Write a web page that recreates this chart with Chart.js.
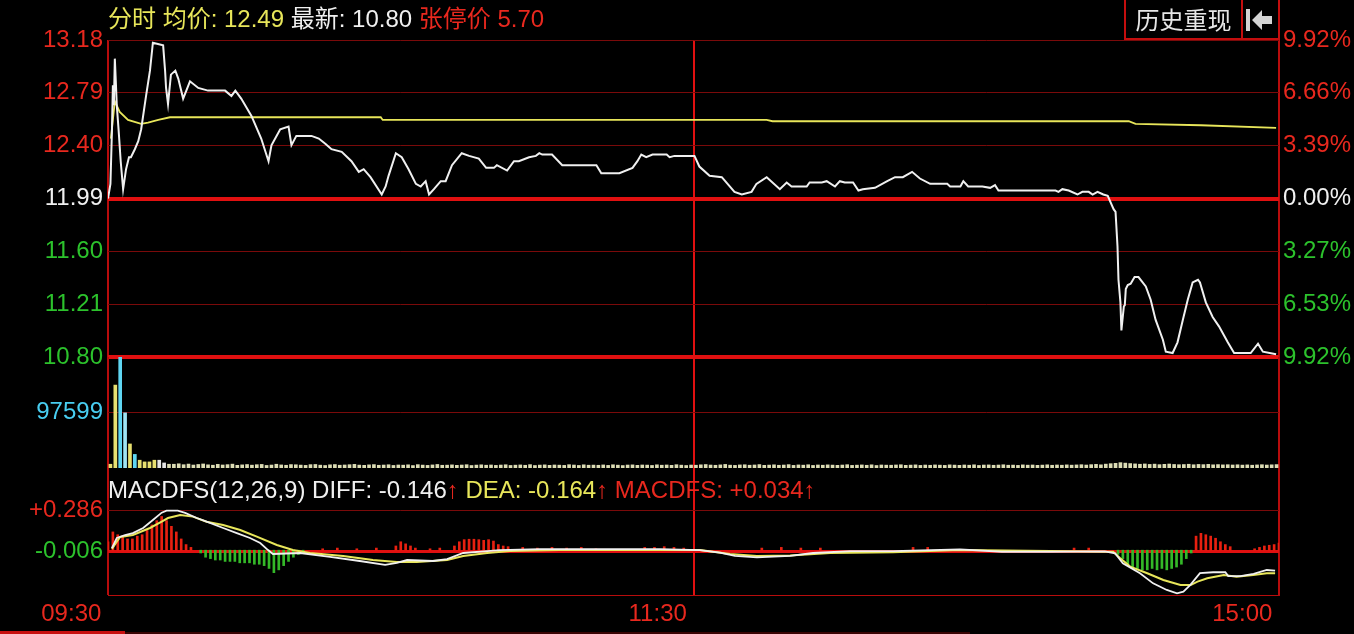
<!DOCTYPE html>
<html>
<head>
<meta charset="utf-8">
<script src="https://cdn.jsdelivr.net/npm/chart.js@4.4.0/dist/chart.umd.min.js"></script>
<style>
  html, body { margin: 0; padding: 0; background: #000; overflow: hidden; }
  #wrap { position: relative; width: 1354px; height: 634px; background: #000;
          font-family: 'Liberation Sans', 'Noto Sans CJK SC', sans-serif; }
  .pane { position: absolute; left: 0; width: 1354px; }
  .txt { position: absolute; font-size: 24px; line-height: 28px; white-space: pre; }
  .yl { color: #e8e65a; } .wt { color: #f0f0f0; } .rd { color: #e8281e; }
  #btn { position: absolute; left: 1124px; top: -2px; width: 119px; height: 42px; box-sizing: border-box;
         border: 2px solid #c40e0e; color: #e6e6e6; font-size: 24px; line-height: 38px; text-align: center;
         font-family: 'Noto Sans CJK SC', sans-serif; }
  #back { position: absolute; left: 1241px; top: -2px; width: 39px; height: 42px; box-sizing: border-box;
          border: 2px solid #c40e0e; border-left: none; }
  #strip { position: absolute; left: 0; top: 631px; width: 125px; height: 3px; background: #c81010; }
  #strip2 { position: absolute; left: 125px; top: 632px; width: 845px; height: 2px; background: #3a0404; }
</style>
</head>
<body>
<div id="wrap">
  <div class="pane" style="top:0px"><canvas id="cPrice" width="1354" height="379"></canvas></div>
  <div class="pane" style="top:335px"><canvas id="cVol" width="1354" height="155"></canvas></div>
  <div class="pane" style="top:446px"><canvas id="cMacd" width="1354" height="188"></canvas></div>

  <div class="txt" style="left:108px;top:5px"><span class="yl">分时 均价: 12.49</span> <span class="wt">最新: 10.80</span> <span class="rd">张停价 5.70</span></div>
  <div class="txt" style="left:108px;top:476px"><span class="wt">MACDFS(12,26,9) DIFF: -0.146</span><span class="rd">↑</span> <span class="yl">DEA: -0.164</span><span class="rd">↑</span> <span class="rd">MACDFS: +0.034↑</span></div>
  <div id="btn">历史重现</div>
  <div id="back">
    <svg width="37" height="40" viewBox="0 0 37 40">
      <rect x="5" y="9" width="4" height="22" fill="#d4d4d4"/>
      <polygon points="11,20 21,10 21,16 31,16 31,24 21,24 21,30" fill="#d4d4d4"/>
    </svg>
  </div>
  <div id="strip"></div><div id="strip2"></div>
</div>

<script>
// ---- 价格轴 / 百分比轴 (从上到下) ----
const priceMax = 13.18;
const priceMin = 10.80;
const priceLabels = ['13.18', '12.79', '12.40', '11.99', '11.60', '11.21', '10.80'];
const pctLabels = ['9.92%', '6.66%', '3.39%', '0.00%', '3.27%', '6.53%', '9.92%'];

// ---- 时间轴 (分钟序号) ----
const timeTicks = [0, 120, 240];
const timeLabels = ['09:30', '11:30', '15:00'];

// ---- 分时价格 (白线) ----
const priceT = [
  0, 0.5, 0.8, 1.0, 1.2, 1.4, 1.6, 1.8, 2.2, 2.6,
  3.1, 3.7, 4.3, 4.7, 5.5, 6.2, 6.8, 7.8, 8.6, 9.2,
  11.3, 11.7, 11.9, 12.3, 12.9, 13.8, 14.4, 15.4, 16.8, 18.5,
  20.5, 22.0, 24.0, 25.3, 26.1, 27.3, 29.4, 31.4, 32.9, 33.5,
  35.3, 37.0, 37.6, 38.6, 41.7, 43.2, 44.6, 45.8, 47.9, 49.9,
  51.4, 52.4, 53.8, 56.1, 56.9, 57.5, 59.0, 60.2, 61.6, 63.1,
  64.1, 65.1, 65.8, 66.8, 68.2, 69.2, 70.5, 72.5, 74.0, 76.0,
  77.5, 79.1, 79.7, 81.8, 83.2, 84.2, 86.3, 87.7, 88.4, 89.0,
  91.0, 93.1, 100.1, 101.1, 104.8, 107.5, 108.5, 109.3, 110.3, 111.6,
  114.5, 115.1, 116.1, 120.2, 121.2, 123.3, 125.8, 128.4, 129.9, 131.9,
  132.9, 135.0, 137.7, 139.1, 140.1, 141.2, 143.2, 143.8, 146.3, 147.3,
  149.0, 150.0, 151.0, 152.7, 153.8, 154.7, 157.2, 159.7, 161.3, 162.9,
  164.8, 166.4, 168.5, 172.0, 172.6, 174.7, 175.3, 176.3, 179.2, 180.8,
  181.8, 182.5, 187.6, 194.2, 194.8, 195.6, 196.9, 198.7, 199.7, 201.0,
  201.8, 202.8, 204.0, 204.9, 206.1, 206.5, 206.9, 207.1, 207.5, 207.7,
  208.2, 208.4, 208.6, 209.0, 209.6, 210.4, 211.2, 212.7, 213.7, 214.7,
  216.2, 216.8, 218.2, 219.2, 220.3, 221.3, 222.3, 223.4, 223.8, 225.0,
  226.4, 227.7, 229.5, 230.8, 234.2, 235.7, 236.7, 239.4
];
const priceV = [
  11.99, 12.10, 12.49, 12.84, 12.69, 13.04, 12.87, 12.69, 12.49, 12.27,
  12.06, 12.21, 12.30, 12.30, 12.36, 12.42, 12.51, 12.76, 12.95, 13.16,
  13.14, 12.95, 12.82, 12.70, 12.92, 12.95, 12.89, 12.74, 12.87, 12.82,
  12.80, 12.80, 12.80, 12.76, 12.80, 12.74, 12.61, 12.44, 12.27, 12.39,
  12.51, 12.53, 12.39, 12.46, 12.46, 12.44, 12.40, 12.36, 12.34, 12.27,
  12.19, 12.21, 12.15, 12.02, 12.08, 12.16, 12.33, 12.30, 12.21, 12.10,
  12.08, 12.12, 12.02, 12.06, 12.12, 12.12, 12.24, 12.33, 12.31, 12.29,
  12.22, 12.22, 12.24, 12.20, 12.27, 12.27, 12.30, 12.31, 12.33, 12.32,
  12.32, 12.24, 12.24, 12.18, 12.18, 12.22, 12.27, 12.32, 12.30, 12.32,
  12.32, 12.30, 12.31, 12.31, 12.23, 12.16, 12.15, 12.04, 12.02, 12.04,
  12.10, 12.15, 12.06, 12.11, 12.08, 12.08, 12.08, 12.11, 12.11, 12.12,
  12.08, 12.12, 12.11, 12.11, 12.05, 12.06, 12.07, 12.12, 12.15, 12.15,
  12.19, 12.14, 12.10, 12.10, 12.08, 12.08, 12.12, 12.08, 12.08, 12.07,
  12.09, 12.05, 12.05, 12.05, 12.04, 12.06, 12.05, 12.02, 12.04, 12.04,
  12.02, 12.04, 12.02, 12.01, 11.91, 11.89, 11.63, 11.38, 11.21, 11.00,
  11.18, 11.19, 11.31, 11.34, 11.35, 11.40, 11.40, 11.33, 11.23, 11.08,
  10.93, 10.84, 10.83, 10.91, 11.08, 11.23, 11.36, 11.38, 11.36, 11.21,
  11.10, 11.03, 10.91, 10.83, 10.83, 10.90, 10.84, 10.82
];

// ---- 均价 (黄线) ----
const avgT = [0.6, 1.4, 2.4, 4.1, 6.8, 8.2, 10.3, 12.7, 55.9, 56.3, 135.0, 136.2, 209.2, 210.6, 224.0, 239.4];
const avgV = [12.44, 12.72, 12.64, 12.58, 12.55, 12.56, 12.58, 12.60, 12.60, 12.58, 12.58, 12.57, 12.57, 12.55, 12.54, 12.52];

// ---- 成交量 (每分钟) ----
const volTick = 97599;
const volMax = 195198;
const volume = [
  6600, 145800, 195000, 97000, 42300, 23900, 13700, 10700, 10700, 13700,
  13700, 8900, 6600, 6600, 7400, 5800, 6900, 5200, 6200, 7100,
  5600, 4900, 6400, 5300, 5900, 6800, 4700, 5500, 6100, 5000,
  5800, 6300, 4500, 5200, 6600, 5400, 4800, 6000, 5700, 5100,
  4600, 5900, 6200, 5000, 4400, 5600, 6100, 4900, 5300, 5800,
  6400, 5100, 4700, 5500, 6000, 4800, 5200, 5700, 4500, 5300,
  5000, 5600, 4300, 5900, 5100, 4600, 5400, 6200, 4800, 5000,
  5500, 4700, 5200, 5800, 4400, 5100, 5600, 4900, 5300, 4600,
  5200, 5700, 4500, 5000, 5400, 4800, 5900, 4400, 5100, 5500,
  4700, 5300, 5000, 4600, 5800, 5200, 4500, 5600, 4900, 5100,
  4800, 5400, 4600, 5700, 5000, 4300, 5200, 5500, 4700, 5300,
  5100, 4500, 5600, 4900, 5300, 4700, 5800, 5000, 4400, 5200,
  4900, 5600, 6100, 5200, 4800, 5500, 6300, 5000, 4600, 5400,
  5700, 4900, 5300, 6000, 4700, 5100, 5600, 4800, 5200, 5900,
  4600, 5400, 5000, 5700, 4500, 5300, 4900, 5500, 5100, 4700,
  5200, 5800, 4600, 5000, 5400, 4800, 5600, 4400, 5300, 5000,
  4900, 5300, 5700, 4700, 5100, 5500, 4600, 5200, 4800, 5400,
  5000, 4600, 5500, 5100, 4700, 5300, 4900, 5600, 4500, 5200,
  5400, 4800, 5200, 5700, 4900, 5100, 4600, 5500, 5000, 5300,
  4700, 5100, 5600, 4800, 5300, 4900, 5500, 5000, 5400, 5800,
  5200, 5900, 6400, 5600, 6800, 7600, 8200, 9400, 8600, 7800,
  7200, 6600, 7100, 6300, 6800, 5900, 6500, 7000, 6200, 5800,
  6100, 6600, 5700, 6300, 5900, 6400, 5600, 6000, 5500, 5800,
  5300, 5700, 5100, 5500, 4900, 5400, 5800, 5200, 5600, 6000
];

// ---- MACD 柱 ----
const macdT = [
  0, 1, 2, 3, 4, 5, 6, 7, 8, 9, 10, 11, 12, 13, 14, 15, 16, 17,
  19, 20, 21, 22, 23, 24, 25, 26, 27, 28, 29, 30, 31, 32, 33, 34, 35, 36, 37, 38, 39, 40,
  44, 47, 51, 55, 59, 60, 61, 62, 63, 66, 68,
  71, 72, 73, 74, 75, 76, 77, 78, 79, 80, 81, 82,
  85, 88, 91, 94, 97, 100, 110, 112, 114, 116, 118,
  134, 138, 142, 146, 165, 168, 198, 201,
  207, 208, 209, 210, 211, 212, 213, 214, 215, 216, 217, 218, 219, 220, 221, 222,
  223, 224, 225, 226, 227, 228, 229, 230,
  235, 236, 237, 238, 239, 240
];
const macdV = [
  0.06, 0.13, 0.11, 0.10, 0.08, 0.08, 0.10, 0.11, 0.14, 0.18, 0.21, 0.24, 0.21, 0.17, 0.13, 0.08, 0.04, 0.02,
  -0.02, -0.05, -0.06, -0.07, -0.07, -0.08, -0.08, -0.08, -0.09, -0.09, -0.09, -0.10, -0.10, -0.11, -0.13, -0.16, -0.14, -0.11, -0.08, -0.05, -0.03, -0.02,
  0.01, 0.015, 0.01, 0.015, 0.03, 0.06, 0.045, 0.03, 0.015, 0.01, 0.015,
  0.03, 0.06, 0.075, 0.078, 0.078, 0.075, 0.07, 0.075, 0.065, 0.04, 0.03, 0.025,
  0.02, 0.015, 0.02, 0.015, 0.02, 0.01, 0.02, 0.02, 0.025, 0.02, 0.015,
  0.015, 0.02, 0.015, 0.015, 0.02, 0.02, 0.015, 0.015,
  -0.03, -0.06, -0.10, -0.12, -0.13, -0.14, -0.14, -0.13, -0.14, -0.13, -0.14, -0.13, -0.12, -0.10, -0.06, -0.02,
  0.10, 0.12, 0.11, 0.10, 0.085, 0.06, 0.04, 0.025,
  0.01, 0.02, 0.03, 0.035, 0.04, 0.05
];

// ---- DIFF (白) / DEA (黄) ----
const diffT = [
  0.8, 1.8, 3.5, 5.1, 7.2, 9.2, 11.0, 12.0, 14.3, 15.8, 18.2, 20.9, 23.6, 26.4, 29.1, 31.2, 32.8, 33.8,
  39.4, 45.5, 51.6, 56.8, 59.2, 61.3, 66.6, 69.5, 72.8, 77.7, 80.3, 88.5, 100.8, 113.1, 121.3, 125.4,
  128.5, 133.0, 139.8, 144.5, 152.1, 160.9, 174.6, 183.2, 193.1, 204.3, 206.4, 208.0, 211.5, 214.2,
  217.0, 219.1, 220.4, 221.8, 223.8, 226.5, 229.0, 229.6, 232.1, 234.8, 237.5, 239.2
];
const diffV = [
  0.014, 0.087, 0.108, 0.122, 0.158, 0.215, 0.267, 0.281, 0.281, 0.265, 0.229, 0.194, 0.158, 0.122, 0.087, 0.051, 0.001, -0.027,
  -0.020, -0.048, -0.077, -0.105, -0.091, -0.070, -0.077, -0.063, -0.020, -0.006, 0.001, 0.008, 0.008, 0.008, 0.001, -0.018,
  -0.041, -0.051, -0.041, -0.020, -0.006, -0.006, 0.006, -0.011, -0.011, -0.009, -0.022, -0.093, -0.164, -0.236,
  -0.283, -0.307, -0.295, -0.248, -0.164, -0.157, -0.157, -0.184, -0.184, -0.169, -0.141, -0.146
];
const deaT = [
  0.8, 1.8, 2.5, 5.1, 8.6, 11.0, 12.3, 14.8, 17.4, 20.2, 23.6, 27.1, 30.5, 34.6, 37.9, 41.4, 48.2,
  54.3, 59.2, 63.3, 69.5, 72.8, 77.7, 82.4, 92.6, 109.0, 121.3, 127.5, 133.0, 139.8, 148.0, 160.9,
  174.6, 193.1, 204.3, 206.0, 207.4, 209.5, 213.0, 216.3, 219.8, 221.9, 223.3, 225.3, 228.7, 231.3,
  234.7, 237.5, 239.2
];
const deaV = [
  0.009, 0.061, 0.094, 0.108, 0.158, 0.203, 0.229, 0.251, 0.239, 0.203, 0.179, 0.144, 0.096, 0.037, 0.001, -0.020, -0.041,
  -0.070, -0.084, -0.084, -0.070, -0.041, -0.020, -0.006, 0.001, 0.001, 0.001, -0.027, -0.041, -0.038, -0.020, -0.015,
  0.001, -0.006, -0.011, -0.011, -0.056, -0.117, -0.164, -0.212, -0.248, -0.248, -0.224, -0.200, -0.177, -0.189,
  -0.177, -0.164, -0.164
];

// MACD 轴范围与刻度
const macdMin = -0.319;
const macdMax = 0.585;
const macdTicks = [-0.006, 0.286];
const macdTickLabels = ['-0.006', '+0.286'];

// ---- 样式 ----
const FONT = "'Liberation Sans', 'Noto Sans CJK SC', sans-serif";
const COL = {
  red: '#e8281e', green: '#2cc22c', white: '#f0f0f0', yellow: '#e8e65a', cyan: '#48cdf0',
  gridThin: '#7a0a0a', gridThick: '#e01010', frame: '#b80c0c'
};
const priceTickColors = [COL.red, COL.red, COL.red, COL.white, COL.green, COL.green, COL.green];
const pctTickColors = [COL.red, COL.red, COL.red, COL.white, COL.green, COL.green, COL.green];
const volHeadColors = ['#e8e070', '#e8e070', '#5fd6f2', '#9fe4f4', '#e8e070', '#5fd6f2',
                       '#e8e070', '#e8e070', '#e8e070', '#e8e070', '#e6e6e6', '#e6e6e6'];

Chart.defaults.font.family = FONT;
Chart.defaults.animation = false;

const pairs = (xs, ys) => xs.map((x, i) => ({ x: x, y: ys[i] }));

// x 轴: 竖线 09:30 / 11:30 / 15:00
function timeAxis(showLabels) {
  return {
    type: 'linear', min: 0, max: 240, offset: false,
    afterBuildTicks: s => { s.ticks = timeTicks.map(v => ({ value: v })); },
    afterFit: s => { s.height = showLabels ? 39 : 0; },
    grid: {
      offset: false, drawTicks: false,
      color: c => c.index === 1 ? COL.gridThick : COL.frame,
      lineWidth: 2
    },
    border: { display: showLabels, color: COL.frame, width: 1 },
    ticks: {
      display: showLabels, autoSkip: false, maxRotation: 0, align: 'end', padding: 5,
      color: COL.red, font: { size: 24 },
      callback: (v, i) => timeLabels[i] + ' '
    }
  };
}

const commonOpts = {
  responsive: false,
  devicePixelRatio: 1,
  plugins: { legend: { display: false }, tooltip: { enabled: false } },
  events: []
};

// ---------- 分时价格 ----------
const priceAsc = priceLabels.slice().reverse();
const pctAsc = pctLabels.slice().reverse();
const priceColAsc = priceTickColors.slice().reverse();
const pctColAsc = pctTickColors.slice().reverse();
const priceTickVals = priceLabels.map((_, k) => priceMin + k * (priceMax - priceMin) / (priceLabels.length - 1));

new Chart(document.getElementById('cPrice'), {
  type: 'line',
  data: {
    datasets: [
      { data: pairs(priceT, priceV), borderColor: COL.white, borderWidth: 2, pointRadius: 0, tension: 0, yAxisID: 'y' },
      { data: pairs(avgT, avgV), borderColor: COL.yellow, borderWidth: 1.8, pointRadius: 0, tension: 0, yAxisID: 'y' }
    ]
  },
  options: Object.assign({}, commonOpts, {
    layout: { padding: { top: 40, bottom: 22, left: 0, right: 0 } },
    scales: {
      x: timeAxis(false),
      y: {
        type: 'linear', position: 'left', min: priceMin, max: priceMax,
        afterBuildTicks: s => { s.ticks = priceTickVals.map(v => ({ value: v })); },
        afterFit: s => { s.width = 108; },
        grid: {
          drawTicks: false,
          color: c => (c.index === 0 || c.index === 3) ? COL.gridThick : COL.gridThin,
          lineWidth: c => (c.index === 0 || c.index === 3) ? 4 : 1
        },
        border: { display: false },
        ticks: { autoSkip: false, padding: 5, font: { size: 24 },
                 color: c => priceColAsc[c.index], callback: (v, i) => priceAsc[i] }
      },
      yr: {
        type: 'linear', position: 'right', min: priceMin, max: priceMax,
        afterBuildTicks: s => { s.ticks = priceTickVals.map(v => ({ value: v })); },
        afterFit: s => { s.width = 75; },
        grid: { display: false, drawTicks: false },
        border: { display: false },
        ticks: { autoSkip: false, padding: 4, font: { size: 24 },
                 color: c => pctColAsc[c.index], callback: (v, i) => pctAsc[i] }
      }
    }
  })
});

// ---------- 成交量 ----------
new Chart(document.getElementById('cVol'), {
  type: 'bar',
  data: {
    datasets: [{
      data: volume.map((v, i) => ({ x: i + 0.5, y: v })),
      backgroundColor: volume.map((_, i) => volHeadColors[i] || '#dcdcb4'),
      barThickness: 3
    }]
  },
  options: Object.assign({}, commonOpts, {
    layout: { padding: { top: 22, bottom: 22, left: 0, right: 75 } },
    scales: {
      x: timeAxis(false),
      y: {
        type: 'linear', position: 'left', min: 0, max: volMax,
        afterBuildTicks: s => { s.ticks = [{ value: volTick }]; },
        afterFit: s => { s.width = 108; },
        grid: { drawTicks: false, color: COL.gridThin, lineWidth: 1 },
        border: { display: false },
        ticks: { autoSkip: false, padding: 5, font: { size: 24 }, color: COL.cyan,
                 callback: () => String(volTick) }
      }
    }
  })
});

// ---------- MACD ----------
new Chart(document.getElementById('cMacd'), {
  type: 'bar',
  data: {
    datasets: [
      { type: 'bar', data: pairs(macdT, macdV), order: 3, barThickness: 2,
        backgroundColor: macdV.map(v => v >= 0 ? '#e82010' : '#34b828') },
      { type: 'line', data: pairs(deaT, deaV), order: 2, borderColor: COL.yellow, borderWidth: 2,
        pointRadius: 0, tension: 0 },
      { type: 'line', data: pairs(diffT, diffV), order: 1, borderColor: COL.white, borderWidth: 1.8,
        pointRadius: 0, tension: 0 }
    ]
  },
  options: Object.assign({}, commonOpts, {
    layout: { padding: { top: 22, bottom: 0, left: 0, right: 75 } },
    scales: {
      x: timeAxis(true),
      y: {
        type: 'linear', position: 'left', min: macdMin, max: macdMax,
        afterBuildTicks: s => { s.ticks = macdTicks.map(v => ({ value: v })); },
        afterFit: s => { s.width = 108; },
        grid: {
          drawTicks: false,
          color: c => c.index === 0 ? COL.gridThick : COL.gridThin,
          lineWidth: c => c.index === 0 ? 3 : 1
        },
        border: { display: false },
        ticks: { autoSkip: false, padding: 5, font: { size: 24 },
                 color: c => c.index === 0 ? COL.green : COL.red,
                 callback: (v, i) => macdTickLabels[i] }
      }
    }
  })
});
</script>
</body>
</html>
